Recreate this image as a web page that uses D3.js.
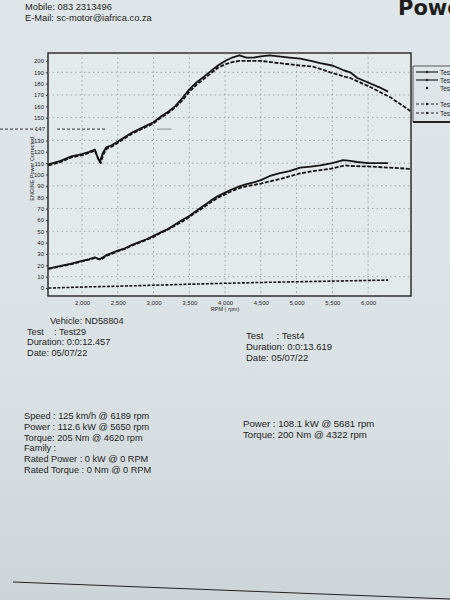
<!DOCTYPE html>
<html>
<head>
<meta charset="utf-8">
<script src="https://cdn.jsdelivr.net/npm/d3@7"></script>
<style>
  body { margin: 0; background: #d9e1e4; overflow: hidden; }
  svg text { font-family: "Liberation Sans", Arial, sans-serif; fill: #1e1e1e; white-space: pre; }
</style>
</head>
<body>
<div id="sheet"></div>
<script>
// rpm / value pairs
var rpm29 = [1530, 1700, 1850, 2000, 2100, 2180, 2220, 2250, 2290, 2340, 2420, 2500, 2600, 2700, 2800, 2900, 3000, 3100, 3200, 3300, 3400, 3500, 3600, 3700, 3800, 3900, 4000, 4100, 4200, 4300, 4400, 4500, 4620, 4750, 4900, 5050, 5200, 5330, 5500, 5650, 5750, 5850, 6000, 6150, 6280];
var torque29 = [109, 112, 116, 118, 120, 122, 115, 111, 119, 124, 126, 129, 133, 137, 140, 143, 146, 151, 155, 160, 167, 175, 181, 186, 191, 196, 200, 203, 205, 203, 203, 204, 205, 204, 203, 202, 200, 198, 196, 192, 190, 185, 181, 177, 173];
var power29 = [17, 19.5, 21.5, 24, 25.5, 27, 26, 25.5, 27, 29, 31, 33, 35, 38, 40.5, 43, 46, 49, 52, 56, 60, 63.5, 68, 72.5, 77, 81, 84, 87, 89.5, 91.5, 93, 95, 98.5, 101, 103, 106, 107, 108, 110, 112.6, 112, 111, 110, 110, 110];
var extra29 = [0, 0.3, 0.6, 0.9, 1.1, 1.2, 1.2, 1.3, 1.3, 1.4, 1.5, 1.6, 1.8, 2, 2.1, 2.3, 2.5, 2.7, 2.8, 3, 3.2, 3.4, 3.5, 3.7, 3.9, 4, 4.2, 4.3, 4.5, 4.6, 4.8, 4.9, 5.1, 5.2, 5.4, 5.6, 5.8, 5.9, 6.1, 6.3, 6.4, 6.5, 6.7, 6.9, 7];

var rpm4 = [1530, 1700, 1850, 2000, 2100, 2180, 2230, 2260, 2300, 2350, 2430, 2500, 2600, 2700, 2800, 2900, 3000, 3100, 3200, 3300, 3400, 3500, 3600, 3700, 3800, 3900, 4000, 4100, 4200, 4322, 4500, 4770, 5050, 5230, 5470, 5681, 5750, 6030, 6310, 6450, 6590];
var torque4 = [108, 111, 115, 117, 119, 121, 113, 110, 118, 123, 125, 128, 132, 136, 139, 142, 145, 150, 154, 159, 165, 173, 179, 184, 189, 194, 197, 199, 200, 200, 200, 198, 196, 195, 190, 186, 185, 177, 168, 162, 156];
var power4 = [17, 19, 21, 23.5, 25, 26.5, 25.5, 25, 26.5, 28.5, 30.5, 32.5, 34.5, 37.5, 40, 42.5, 45, 48.5, 51.5, 55, 58.5, 62.5, 67, 71, 75.5, 79.5, 82.5, 85.5, 88, 90, 92, 96, 101, 103, 105, 108.1, 107.5, 107, 106, 105.5, 105];

var xTicks = [2000, 2500, 3000, 3500, 4000, 4500, 5000, 5500, 6000];
var xTickLabels = ["2,000", "2,500", "3,000", "3,500", "4,000", "4,500", "5,000", "5,500", "6,000"];
var yTicks = [0, 10, 20, 30, 40, 50, 60, 70, 80, 90, 100, 110, 120, 130, 150, 160, 170, 180, 190, 200];
var yGrid = [10, 30, 50, 70, 90, 110, 130, 150, 170, 190];
var cursorValue = 140;
var cursorLabel = "147";
var legendNames = ["Test29 Power", "Test29 Torque", "Test29 Speed", "Test4 Power", "Test4 Torque"];

var headerLines = ["Mobile: 083 2313496", "E-Mail: sc-motor@iafrica.co.za"];
var infoLeft = ["Vehicle: ND58804", "Test    : Test29", "Duration: 0:0:12.457", "Date: 05/07/22"];
var infoRight = ["Test     : Test4", "Duration: 0:0:13.619", "Date: 05/07/22"];
var resultLeft = ["Speed : 125 km/h @ 6189 rpm", "Power : 112.6 kW @ 5650 rpm", "Torque: 205 Nm @ 4620 rpm", "Family :", "Rated Power : 0 kW @ 0 RPM", "Rated Torque : 0 Nm @ 0 RPM"];
var resultRight = ["Power : 108.1 kW @ 5681 rpm", "Torque: 200 Nm @ 4322 rpm"];

var W = 450, H = 600;
var svg = d3.select("#sheet").append("svg").attr("width", W).attr("height", H);

// paper, a bit darker towards the bottom like the photo
var defs = svg.append("defs");
var grad = defs.append("linearGradient").attr("id", "paper").attr("x1", 0).attr("y1", 0).attr("x2", 0).attr("y2", 1);
grad.append("stop").attr("offset", "0%").attr("stop-color", "#dfe6e9");
grad.append("stop").attr("offset", "60%").attr("stop-color", "#dbe2e5");
grad.append("stop").attr("offset", "100%").attr("stop-color", "#cdd5d9");
svg.append("rect").attr("width", W).attr("height", H).attr("fill", "url(#paper)");

// header
svg.selectAll(".hdr").data(headerLines).enter().append("text")
  .attr("x", 25).attr("y", function(d, i) { return 10 + i * 11; })
  .style("font-size", "9.3px").text(function(d) { return d; });
svg.append("text").attr("x", 398).attr("y", 15)
  .style("font-size", "21px").style("font-weight", "bold").style("font-family", "DejaVu Sans")
  .text("Power");

// plot frame
var plotL = 48, plotR = 411, plotT = 53, plotB = 296;
var x = d3.scaleLinear().domain([1524, 6600]).range([plotL, plotR]);
var y = d3.scaleLinear().domain([-7, 207]).range([plotB, plotT]);

svg.append("rect").attr("x", plotL).attr("y", plotT).attr("width", plotR - plotL).attr("height", plotB - plotT)
  .attr("fill", "#e3eaec").attr("stroke", "#222").attr("stroke-width", 1.4);

// dotted grid
svg.selectAll(".vg").data(xTicks).enter().append("line")
  .attr("x1", function(d) { return x(d); }).attr("x2", function(d) { return x(d); })
  .attr("y1", plotT).attr("y2", plotB)
  .attr("stroke", "#8a9296").attr("stroke-width", 0.8).attr("stroke-dasharray", "1.5,3");
svg.selectAll(".hg").data(yGrid).enter().append("line")
  .attr("x1", plotL).attr("x2", plotR)
  .attr("y1", function(d) { return y(d); }).attr("y2", function(d) { return y(d); })
  .attr("stroke", "#8a9296").attr("stroke-width", 0.8).attr("stroke-dasharray", "1.5,3");

// axes
var xAxis = svg.append("g").attr("transform", "translate(0," + plotB + ")")
  .call(d3.axisBottom(x).tickValues(xTicks).tickSize(0).tickPadding(5)
    .tickFormat(function(d, i) { return xTickLabels[i]; }));
xAxis.select(".domain").remove();
xAxis.selectAll("text").style("font-size", "6px").attr("fill", "#333");

var yAxis = svg.append("g").attr("transform", "translate(" + plotL + ",0)")
  .call(d3.axisLeft(y).tickValues(yTicks).tickSize(2).tickPadding(2));
yAxis.select(".domain").remove();
yAxis.selectAll("line").attr("stroke", "#333");
yAxis.selectAll("text").style("font-size", "6px").attr("fill", "#333");

svg.append("text").attr("x", x(4000)).attr("y", plotB + 15).attr("text-anchor", "middle")
  .style("font-size", "5.5px").text("RPM ( rpm)");
svg.append("text").attr("transform", "translate(34," + y(105) + ") rotate(-90)").attr("text-anchor", "middle")
  .style("font-size", "5.5px").text("ENGINE Power Corrected");

// cursor readout at the left
svg.append("line").attr("x1", 0).attr("x2", 36).attr("y1", y(cursorValue)).attr("y2", y(cursorValue))
  .attr("stroke", "#333").attr("stroke-width", 1).attr("stroke-dasharray", "3,2");
svg.append("text").attr("x", 45).attr("y", y(cursorValue) + 2).attr("text-anchor", "end")
  .style("font-size", "6px").text(cursorLabel);
svg.append("line").attr("x1", x(1650)).attr("x2", x(2330)).attr("y1", y(cursorValue)).attr("y2", y(cursorValue))
  .attr("stroke", "#333").attr("stroke-width", 1).attr("stroke-dasharray", "3,2");
svg.append("line").attr("x1", x(3050)).attr("x2", x(3250)).attr("y1", y(cursorValue)).attr("y2", y(cursorValue))
  .attr("stroke", "#777").attr("stroke-width", 0.8);

// curves
function series(rpms, vals) { return rpms.map(function(r, i) { return [r, vals[i]]; }); }
var line = d3.line().x(function(d) { return x(d[0]); }).y(function(d) { return y(d[1]); });

var curves = [
  { pts: series(rpm4, torque4), dash: "4,1.5", w: 1.8 },
  { pts: series(rpm4, power4), dash: "4,1.5", w: 1.8 },
  { pts: series(rpm29, extra29), dash: "3,1.5", w: 1.6 },
  { pts: series(rpm29, torque29), dash: null, w: 1.8 },
  { pts: series(rpm29, power29), dash: null, w: 1.8 }
];
curves.forEach(function(c) {
  svg.append("path").datum(c.pts).attr("d", line).attr("fill", "none")
    .attr("stroke", "#141414").attr("stroke-width", c.w)
    .attr("stroke-dasharray", c.dash).attr("stroke-linejoin", "round");
});

// legend, running off the right edge of the page
var lg = svg.append("g").attr("transform", "translate(413,66)");
lg.append("line").attr("x1", 0).attr("x2", 0).attr("y1", 0).attr("y2", 56).attr("stroke", "#333").attr("stroke-width", 0.8);
lg.append("line").attr("x1", 0).attr("x2", 40).attr("y1", 0).attr("y2", 0).attr("stroke", "#333").attr("stroke-width", 0.8);
lg.append("line").attr("x1", 0).attr("x2", 40).attr("y1", 56).attr("y2", 56).attr("stroke", "#222").attr("stroke-width", 1.8);
var legendY = [6, 14, 22, 38, 47];
var legendDash = [null, null, "0,30", "3,2", "3,2"];
legendNames.forEach(function(n, i) {
  lg.append("line").attr("x1", 3).attr("x2", 25).attr("y1", legendY[i]).attr("y2", legendY[i])
    .attr("stroke", "#222").attr("stroke-width", 1.2).attr("stroke-dasharray", legendDash[i]);
  lg.append("circle").attr("cx", 14).attr("cy", legendY[i]).attr("r", 1.2).attr("fill", "#222");
  lg.append("text").attr("x", 27).attr("y", legendY[i] + 2.5).style("font-size", "6.5px").text(n);
});

// test info
svg.selectAll(".il").data(infoLeft).enter().append("text")
  .attr("x", function(d, i) { return i === 0 ? 50 : 27; })
  .attr("y", function(d, i) { return 324 + i * 10.7; })
  .style("font-size", "9.2px").text(function(d) { return d; });
svg.selectAll(".ir").data(infoRight).enter().append("text")
  .attr("x", 246).attr("y", function(d, i) { return 339 + i * 11; })
  .style("font-size", "9.5px").text(function(d) { return d; });
svg.selectAll(".rl").data(resultLeft).enter().append("text")
  .attr("x", 24).attr("y", function(d, i) { return 419 + i * 10.8; })
  .style("font-size", "9.2px").text(function(d) { return d; });
svg.selectAll(".rr").data(resultRight).enter().append("text")
  .attr("x", 243).attr("y", function(d, i) { return 427 + i * 11; })
  .style("font-size", "9.6px").text(function(d) { return d; });

// printed rule near the bottom
svg.append("line").attr("x1", 13).attr("y1", 582).attr("x2", 450).attr("y2", 599)
  .attr("stroke", "#222").attr("stroke-width", 1);
</script>
</body>
</html>
